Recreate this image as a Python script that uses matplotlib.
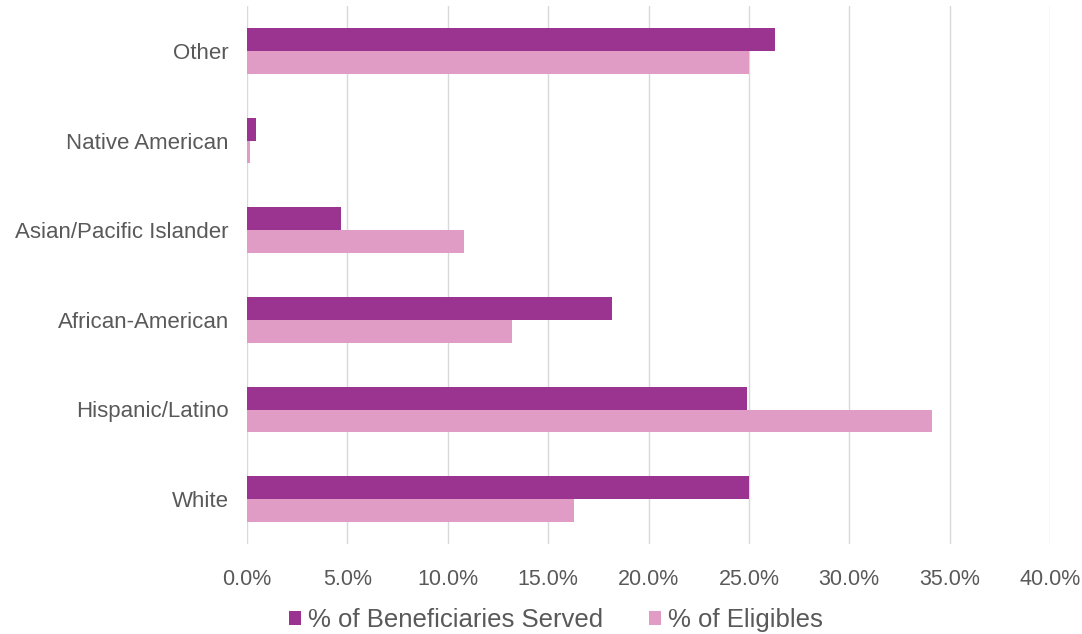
import numpy as np
import matplotlib.pyplot as plt
from matplotlib.ticker import FuncFormatter

plt.rcParams['font.family'] = ['Liberation Sans', 'DejaVu Sans']

# Daten (von unten nach oben)
groups = ['White', 'Hispanic/Latino', 'African-American',
          'Asian/Pacific Islander', 'Native American', 'Other']
served = [25.0, 24.9, 18.2, 4.7, 0.45, 26.3]
eligibles = [16.3, 34.1, 13.2, 10.8, 0.15, 25.0]

c_served = '#9B3391'
c_elig = '#E09CC5'
grey = '#595959'

fig = plt.figure(figsize=(10.82, 6.34), dpi=100)
ax = fig.add_axes([247/1082, 1 - 544/634, (1050-247)/1082, 538/634])

y = np.arange(len(groups))
h = 0.255
ax.barh(y + h/2, served, height=h, color=c_served, label='% of Beneficiaries Served', zorder=3)
ax.barh(y - h/2, eligibles, height=h, color=c_elig, label='% of Eligibles', zorder=3)

ax.set_xlim(0, 40)
ax.set_ylim(-0.5, 5.5)
ax.set_xticks(np.arange(0, 41, 5))
ax.xaxis.set_major_formatter(FuncFormatter(lambda v, p: f'{v:.1f}%'))
ax.set_yticks(y)
ax.set_yticklabels(groups)
ax.grid(axis='x', color='#D9D9D9', linewidth=1, zorder=0)
for s in ax.spines.values():
    s.set_visible(False)
ax.tick_params(length=0, colors=grey)
ax.tick_params(axis='y', labelsize=16, pad=13)
ax.tick_params(axis='x', labelsize=15.5, pad=18)

fig.legend(loc='center', bbox_to_anchor=(556/1082, 1 - 620/634), ncol=2, frameon=False,
           fontsize=18.5, labelcolor=grey, handlelength=0.47, handleheight=0.47,
           handletextpad=0.27, columnspacing=1.8)

fig.savefig('out.png', dpi=100)
